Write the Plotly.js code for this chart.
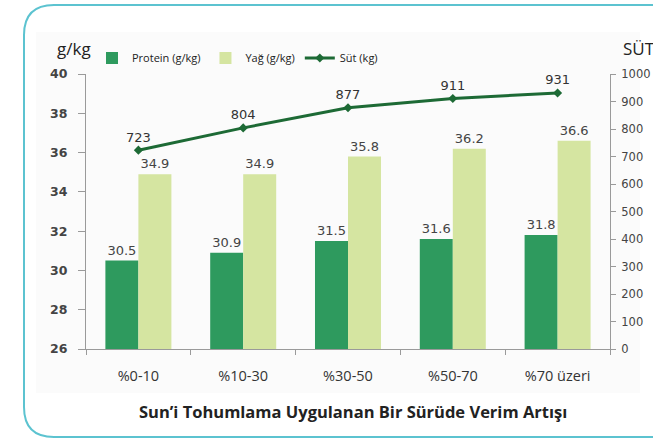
<!DOCTYPE html>
<html><head><meta charset="utf-8">
<script src="https://cdn.plot.ly/plotly-3.0.1.min.js"></script>
<style>html,body{margin:0;padding:0;background:#fff;}#chart{width:653px;height:440px;}</style>
</head><body><div id="chart"></div>
<script>
const categories = ['%0-10','%10-30','%30-50','%50-70','%70 üzeri'];
const protein = [30.5, 30.9, 31.5, 31.6, 31.8];
const yag = [34.9, 34.9, 35.8, 36.2, 36.6];
const sut = [723, 804, 877, 911, 931];
const leftTicks = [26, 28, 30, 32, 34, 36, 38, 40];
const rightTicks = [0, 100, 200, 300, 400, 500, 600, 700, 800, 900, 1000];

const W = 653, H = 440, L = 86, R = 43, T = 74, B = 91;
const pw = W - L - R, ph = H - T - B;
const px = x => (x - L) / pw;
const py = y => (H - B - y) / ph;

const border = 'M ' + px(720) + ',' + py(5) + ' L ' + px(54) + ',' + py(5) +
  ' Q ' + px(24) + ',' + py(5) + ' ' + px(24) + ',' + py(35) +
  ' L ' + px(24) + ',' + py(407) +
  ' Q ' + px(24) + ',' + py(437) + ' ' + px(54) + ',' + py(437) +
  ' L ' + px(720) + ',' + py(437);

const traces = [
  {type:'bar', name:'Protein (g/kg)', x:categories, y:protein, marker:{color:'#2e9a5e'},
   text:protein.map(v=>v.toFixed(1)), textposition:'outside', cliponaxis:false,
   textfont:{family:'DejaVu Sans', size:13, color:'#444'}},
  {type:'bar', name:'Yağ (g/kg)', x:categories, y:yag, marker:{color:'#d5e5a1'},
   text:yag.map(v=>v.toFixed(1)), textposition:'outside', cliponaxis:false,
   textfont:{family:'DejaVu Sans', size:13, color:'#444'}},
  {type:'scatter', mode:'lines+markers+text', name:'Süt (kg)', x:categories, y:sut, yaxis:'y2',
   line:{color:'#1d6a35', width:3}, marker:{symbol:'diamond', size:7, color:'#1d6a35'},
   text:sut.map(String), textposition:'top center', cliponaxis:false,
   textfont:{family:'DejaVu Sans', size:13, color:'#333'}}
];

const layout = {
  width:W, height:H, margin:{l:L, r:R, t:T, b:B},
  paper_bgcolor:'#ffffff', plot_bgcolor:'rgba(0,0,0,0)',
  barmode:'group', bargap:0.37, bargroupgap:0,
  showlegend:true,
  legend:{orientation:'h', x:px(92), y:py(58), xanchor:'left', yanchor:'middle',
    font:{family:'Open Sans', size:11, color:'#222'}, bgcolor:'rgba(0,0,0,0)',
    itemwidth:30, tracegroupgap:0},
  xaxis:{type:'category', showline:true, linecolor:'#9a9a9a', linewidth:1,
    ticks:'outside', tickson:'boundaries', ticklen:5, tickcolor:'#9a9a9a',
    tickfont:{family:'Open Sans', size:14.5, color:'#333'}, ticklabelstandoff:14,
    showgrid:false, zeroline:false},
  yaxis:{range:[26,40], tickvals:leftTicks, showline:true, linecolor:'#9a9a9a', linewidth:1,
    ticks:'outside', ticklen:7, tickcolor:'#9a9a9a', ticklabelstandoff:8,
    tickfont:{family:'DejaVu Sans', size:12.5, color:'#444', weight:'bold'},
    showgrid:false, zeroline:false},
  yaxis2:{range:[0,1000], tickvals:rightTicks, overlaying:'y', side:'right',
    showline:true, linecolor:'#9a9a9a', linewidth:1,
    ticks:'outside', ticklen:5, tickcolor:'#9a9a9a', ticklabelstandoff:3,
    tickfont:{family:'DejaVu Sans', size:11.5, color:'#444'},
    showgrid:false, zeroline:false},
  shapes:[
    {type:'rect', xref:'paper', yref:'paper', x0:px(36), x1:px(640), y0:py(393), y1:py(32),
     fillcolor:'#fbfbfb', line:{width:0}, layer:'below'},
    {type:'path', xref:'paper', yref:'paper', path:border, line:{color:'#5cc3d0', width:2}}
  ],
  annotations:[
    {xref:'paper', yref:'paper', x:px(74), y:py(48), xanchor:'center', yanchor:'middle', text:'g/kg', showarrow:false,
     font:{family:'Open Sans', size:17, color:'#222'}},
    {xref:'paper', yref:'paper', x:px(621), y:py(48), xanchor:'left', yanchor:'middle', text:'SÜT', showarrow:false,
     font:{family:'Open Sans', size:17, color:'#222'}},
    {xref:'paper', yref:'paper', x:px(353), y:py(411), xanchor:'center', yanchor:'middle',
     text:'Sun’i Tohumlama Uygulanan Bir Sürüde Verim Artışı',
     showarrow:false, font:{family:'Open Sans', size:16.5, color:'#222', weight:'bold'}}
  ]
};

Plotly.newPlot('chart', traces, layout, {displayModeBar:false, staticPlot:true});
</script></body></html>
